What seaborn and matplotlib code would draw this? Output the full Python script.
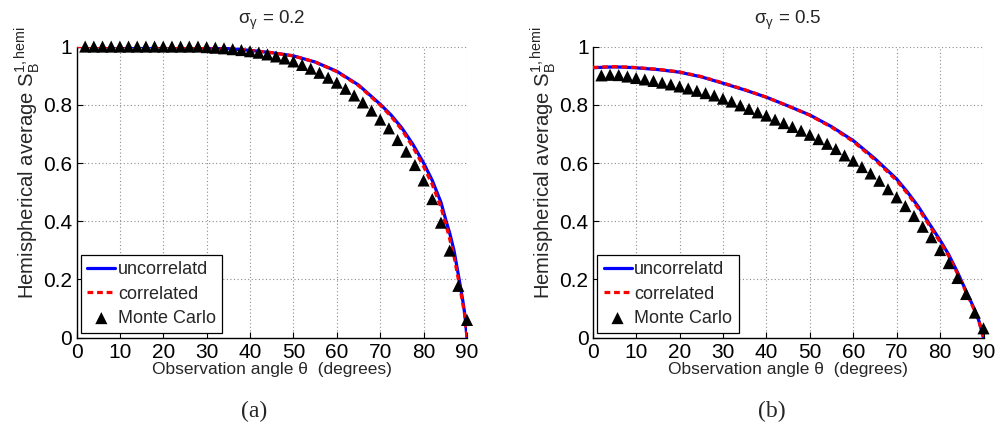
import numpy as np
import pandas as pd
import matplotlib
matplotlib.use("Agg")
import matplotlib.pyplot as plt
import seaborn as sns

# ---------------- data ----------------
# Observation angles (degrees) for the analytic curves
theta_a = [0, 5, 10, 15, 20, 25, 30, 35, 40, 45, 50, 55, 60, 65, 70, 72.5, 75,
           77.5, 80, 82, 84, 85.2, 86, 87, 88.2, 89, 89.5, 90]
uncorr_a = [1.0, 1.0, 1.0, 1.0, 1.0, 0.999, 0.997, 0.993, 0.987, 0.979, 0.968,
            0.947, 0.915, 0.868, 0.802, 0.765, 0.720, 0.665, 0.600, 0.540,
            0.465, 0.400, 0.360, 0.300, 0.200, 0.130, 0.080, 0.0]
corr_a = [1.0, 1.0, 1.0, 1.0, 1.0, 0.999, 0.997, 0.993, 0.987, 0.979, 0.968,
          0.947, 0.914, 0.866, 0.799, 0.760, 0.714, 0.656, 0.588, 0.526,
          0.448, 0.385, 0.340, 0.280, 0.185, 0.120, 0.075, 0.0]

theta_b = [0, 2.5, 5, 7.5, 10, 15, 20, 25, 30, 35, 40, 45, 50, 55, 60, 65, 70,
           72.5, 75, 77.5, 80, 82, 84, 86, 88, 89, 90]
uncorr_b = [0.927, 0.929, 0.930, 0.929, 0.927, 0.921, 0.912, 0.896, 0.874,
            0.851, 0.826, 0.796, 0.765, 0.725, 0.677, 0.615, 0.545, 0.500,
            0.450, 0.392, 0.335, 0.285, 0.225, 0.160, 0.095, 0.055, 0.0]
corr_b = [0.928, 0.930, 0.931, 0.930, 0.928, 0.922, 0.913, 0.897, 0.875,
          0.852, 0.826, 0.796, 0.764, 0.723, 0.674, 0.611, 0.540, 0.495,
          0.444, 0.386, 0.329, 0.280, 0.220, 0.156, 0.092, 0.053, 0.0]

# Monte Carlo samples every 2 degrees
theta_mc = list(range(2, 91, 2))
mc_a = [1.0] * 14 + [0.998, 0.996, 0.994, 0.991, 0.988, 0.984, 0.979, 0.973,
                     0.966, 0.959, 0.949, 0.937, 0.924, 0.910, 0.893, 0.876,
                     0.855, 0.832, 0.808, 0.780, 0.749, 0.719, 0.679, 0.639,
                     0.593, 0.540, 0.476, 0.395, 0.299, 0.178, 0.061]
mc_b = [0.901, 0.903, 0.902, 0.897, 0.892, 0.887, 0.882, 0.876, 0.870, 0.863,
        0.856, 0.848, 0.840, 0.832, 0.821, 0.811, 0.798, 0.786, 0.774, 0.763,
        0.749, 0.737, 0.724, 0.711, 0.697, 0.682, 0.666, 0.648, 0.626, 0.608,
        0.586, 0.564, 0.539, 0.510, 0.482, 0.452, 0.418, 0.381, 0.345, 0.301,
        0.256, 0.205, 0.150, 0.086, 0.032]

titles = [r"σ$_\mathregular{γ}$ = 0.2", r"σ$_\mathregular{γ}$ = 0.5"]
panel_tags = ["(a)", "(b)"]
x_ticks = [0, 10, 20, 30, 40, 50, 60, 70, 80, 90]
y_ticks = [0, 0.2, 0.4, 0.6, 0.8, 1.0]
y_ticklabels = ["0", "0.2", "0.4", "0.6", "0.8", "1"]
legend_labels = ["uncorrelatd", "correlated", "Monte Carlo"]

# ---------------- style ----------------
sns.set_style("ticks")
plt.rcParams["font.family"] = ["Liberation Sans", "DejaVu Sans"]
plt.rcParams["mathtext.fontset"] = "custom"
plt.rcParams["mathtext.rm"] = "Liberation Sans"
plt.rcParams["mathtext.it"] = "Liberation Sans:italic"
plt.rcParams["mathtext.sf"] = "Liberation Sans"

fig = plt.figure(figsize=(10, 4.3), dpi=100)
ax_rects = [[0.0765, 0.2147, 0.3905, 0.677],
            [0.5927, 0.2147, 0.3908, 0.677]]
tag_x = [0.254, 0.772]

panels = [
    (theta_a, uncorr_a, corr_a, mc_a),
    (theta_b, uncorr_b, corr_b, mc_b),
]

for i, (th, unc, cor, mc) in enumerate(panels):
    ax = fig.add_axes(ax_rects[i])
    df_line = pd.DataFrame({"theta": th, "unc": unc, "cor": cor})
    df_mc = pd.DataFrame({"theta": theta_mc, "mc": mc})

    sns.lineplot(data=df_line, x="theta", y="unc", ax=ax, color="#0000ff",
                 linewidth=2.3, label=legend_labels[0], sort=False,
                 estimator=None, zorder=3)
    sns.lineplot(data=df_line, x="theta", y="cor", ax=ax, color="#ff0000",
                 linewidth=2.3, linestyle=(0, (1.8, 1.2)),
                 label=legend_labels[1], sort=False, estimator=None, zorder=4)
    sns.scatterplot(data=df_mc, x="theta", y="mc", ax=ax, marker="^",
                    s=76, color="black", edgecolor="none", linewidth=0,
                    label=legend_labels[2], zorder=5, clip_on=False)

    ax.set_xlim(0, 90)
    ax.set_ylim(0, 1)
    ax.set_xticks(x_ticks)
    ax.set_xticklabels([str(t) for t in x_ticks])
    ax.set_yticks(y_ticks)
    ax.set_yticklabels(y_ticklabels)
    ax.grid(True, linestyle=(0, (1, 2.2)), color="0.55", linewidth=0.8)
    ax.set_axisbelow(True)
    sns.despine(ax=ax)
    for sp in ("left", "bottom"):
        ax.spines[sp].set_color("black")
        ax.spines[sp].set_linewidth(1.0)
    ax.tick_params(direction="in", length=4, width=0.8, labelsize=15,
                   colors="black")
    ax.tick_params(axis="x", pad=4)
    ax.tick_params(axis="y", pad=3)

    ax.set_xlabel("Observation angle θ  (degrees)", fontsize=12.5,
                  labelpad=0)
    ax.set_ylabel(r"Hemispherical average S$_\mathregular{B}^\mathregular{1,hemi}$",
                  fontsize=14.6)
    ax.yaxis.set_label_coords(-0.088, 0.6)
    ax.set_title(titles[i], fontsize=13.5, pad=16)

    leg = ax.legend(loc="lower left", fontsize=13, frameon=True,
                    fancybox=False, edgecolor="black", framealpha=1,
                    borderaxespad=0.25, handlelength=1.55, handletextpad=0.15,
                    borderpad=0.35, labelspacing=0.4)
    leg.get_frame().set_linewidth(0.9)

    fig.text(tag_x[i], 0.042, panel_tags[i], ha="center", va="center",
             fontsize=17, family="Liberation Serif")

fig.savefig("out.png", dpi=100)
